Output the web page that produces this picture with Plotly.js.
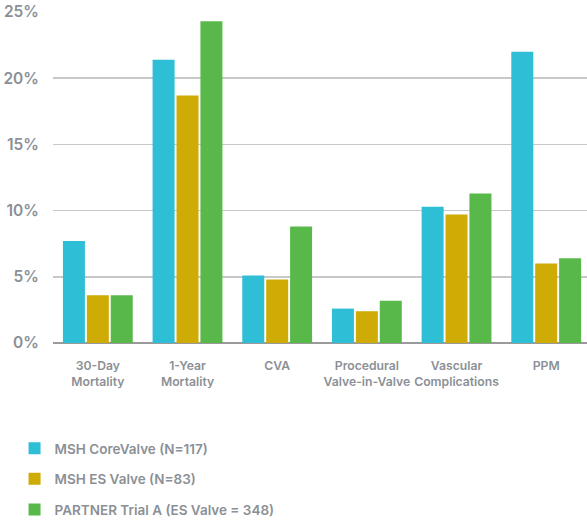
<!DOCTYPE html>
<html><head><meta charset="utf-8">
<script src="https://cdn.plot.ly/plotly-3.0.1.min.js"></script>
<style>body{margin:0;padding:0;background:#fff}#chart{width:587px;height:523px}</style>
</head><body><div id="chart"></div>
<script>
const categories = ["30-Day<br>Mortality", "1-Year<br>Mortality", "CVA", "Procedural<br>Valve-in-Valve", "Vascular<br>Complications", "PPM"];
const seriesNames = ["MSH CoreValve (N=117)", "MSH ES Valve (N=83)", "PARTNER Trial A (ES Valve = 348)"];
const coreValve = [7.7, 21.4, 5.1, 2.6, 10.3, 22.0];
const esValve = [3.6, 18.7, 4.8, 2.4, 9.7, 6.0];
const partner = [3.6, 24.3, 8.8, 3.2, 11.3, 6.4];
const colors = ["#2ebfd7", "#cfab05", "#58b94a"];
const yTicks = [0, 5, 10, 15, 20, 25];

const font = {family: "Inter, 'Noto Sans', sans-serif", color: "#8b9096", weight: 600};
const vals = [coreValve, esValve, partner];
const traces = vals.map((v, i) => ({
  type: "bar", x: categories, y: v, name: seriesNames[i],
  marker: {color: colors[i]}, legendgroup: "g" + i, hoverinfo: "skip"
}));

const layout = {
  width: 587, height: 523,
  margin: {l: 53, r: 0, t: 12, b: 180, pad: 0, autoexpand: false},
  paper_bgcolor: "#fff", plot_bgcolor: "#fff",
  barmode: "group", bargap: 0.2, bargroupgap: 0.08,
  showlegend: true,
  font: font,
  xaxis: {
    type: "category", range: [-0.5, 5.455], fixedrange: true, automargin: false,
    showgrid: false, showline: false, zeroline: false, tickangle: 0,
    ticks: "outside", ticklen: 11, tickcolor: "rgba(0,0,0,0)",
    tickfont: {family: font.family, size: 12.2, color: "#8b9096", weight: 600}
  },
  yaxis: {
    range: [0, 25], tickvals: yTicks, ticktext: yTicks.map(t => t + "%"),
    showgrid: true, gridcolor: "#c8c8c8", gridwidth: 1.5, automargin: false,
    zeroline: true, zerolinecolor: "#9a9a9a", zerolinewidth: 2.5,
    showline: false, ticks: "outside", ticklen: 10, tickcolor: "rgba(0,0,0,0)",
    tickfont: {family: font.family, size: 15.5, color: "#8b9096", weight: 600},
    fixedrange: true
  },
  legend: {
    x: -0.072, xanchor: "left", y: -0.272, yanchor: "top",
    orientation: "v", traceorder: "grouped", tracegroupgap: 10,
    font: {family: font.family, size: 13.5, color: "#8b9096", weight: 600},
    bgcolor: "rgba(0,0,0,0)", itemwidth: 30
  }
};
Plotly.newPlot("chart", traces, layout, {staticPlot: true, displayModeBar: false});
</script></body></html>
